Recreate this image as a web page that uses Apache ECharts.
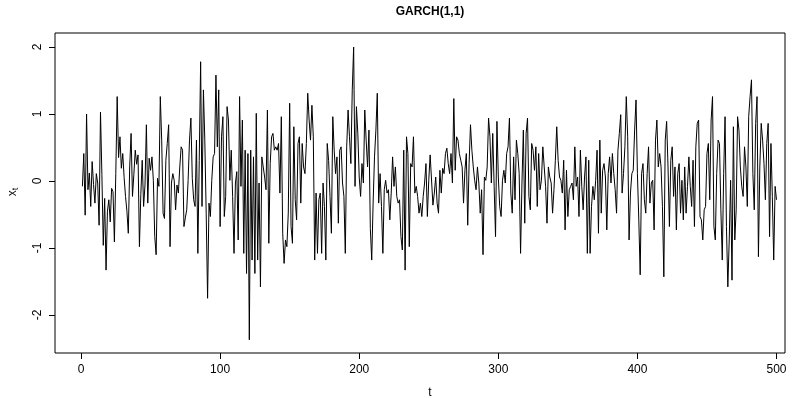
<!DOCTYPE html>
<html>
<head>
<meta charset="utf-8">
<script src="https://cdn.jsdelivr.net/npm/echarts@6/dist/echarts.min.js"></script>
<style>
html,body{margin:0;padding:0;background:#fff;}
#chart{width:801px;height:398px;}
</style>
</head>
<body>
<div id="chart"></div>
<script>
// GARCH(1,1) simulated series, t = 1..500
const xValues = [
 -0.08, 0.41,-0.51, 1.00,-0.13, 0.12,-0.38, 0.29,-0.05,-0.33, 0.11,-0.03,-0.66, 1.03, 0.10,-0.96,-0.26,-1.33,-0.45,-0.28,
 -0.61,-0.11,-0.16,-0.91, 0.11, 1.26, 0.35, 0.66, 0.19, 0.41, 0.05,-0.23,-0.45,-0.78, 0.21, 0.71,-0.23, 0.10, 0.46, 0.25,
  0.39,-0.98,-0.20, 0.31,-0.38,-0.06, 0.84,-0.33, 0.34, 0.16, 0.36, 0.01,-0.83,-1.10, 0.04,-0.08, 1.26, 0.61,-0.48,-0.56,
  0.31, 0.56, 0.84,-0.98,-0.03, 0.11, 0.01,-0.43,-0.06,-0.18, 0.21, 0.51, 0.46,-0.68,-0.55,-0.43, 0.01, 0.61, 0.94, 0.04,
 -0.28,-0.38, 0.61,-1.08, 0.31, 1.78,-0.38, 1.36, 0.61,-0.48,-1.75,-0.33,-0.53, 0.01, 0.36, 0.41, 1.58, 0.51, 1.36,-0.68,
  0.66, 0.96,-0.53,-0.23, 1.11, 0.91, 0.01, 0.46,-0.23,-1.08,-0.03, 0.14,-0.88, 1.26,-0.08, 0.91,-1.08, 0.46,-1.38, 0.41,
 -2.37, 0.46,-1.18, 0.36,-1.38, 1.01,-1.18,-0.03,-1.58, 0.36, 0.21, 0.06,-0.13, 1.06,-0.93, 0.26, 0.66, 0.71, 0.46, 0.51,
  0.46, 0.56,-0.18, 0.96,-0.78,-1.23,-0.88,-0.98,-0.48, 1.16,-0.68,-0.93, 0.81,-0.28,-0.58, 0.56, 0.66,-0.33, 0.56, 0.21,
  0.11, 0.56, 1.31, 0.91, 0.61, 1.13, 0.66,-1.18,-0.18,-1.08,-0.28,-0.18,-1.08,-0.03,-0.38,-1.18, 0.56, 0.31,-0.23,-0.78,
  0.96, 0.46, 0.11, 0.36,-0.63, 0.46, 0.51,-0.03,-0.23,-1.08, 0.51, 1.06, 0.66, 0.26, 1.36, 2.00,-0.08, 1.11, 0.71, 0.06,
 -0.23, 0.26,-0.03, 1.06, 0.61, 0.21, 0.76,-0.71,-1.18,-0.33, 0.36, 0.76, 1.31,-0.33, 0.11,-0.38,-1.08,-0.13, 0.01,-0.18,
 -0.13,-0.58,-0.18, 0.36,-0.08, 0.21,-0.23,-0.33,-0.28,-0.83,-1.03, 0.46,-1.33, 0.66, 0.41,-0.98, 0.26, 0.21, 0.66,-0.18,
 -0.08,-0.23,-0.48,-0.33,-0.53,-0.23,-0.03, 0.26,-0.53, 0.01, 0.39, 0.41,-0.36,-0.18, 0.06,-0.33,-0.48, 0.16,-0.18, 0.19,
  0.11, 0.41, 0.49, 0.26, 0.11, 0.41,-0.03, 1.23, 0.16, 0.66, 0.61, 0.41, 0.31, 0.21,-0.33, 0.16, 0.41,-0.66, 0.26, 0.84,
  0.46, 0.21, 0.01,-0.13, 0.21,-0.03,-0.48,-0.13,-1.10, 0.06, 0.01, 0.21, 0.94, 0.66,-0.03, 0.71,-0.08,-0.83, 0.89, 0.06,
 -0.38,-0.53, 0.01, 0.16,-0.03, 0.41, 0.51, 0.94,-0.18,-0.48, 0.36,-0.28, 0.61, 0.41, 0.11,-1.08,-0.03, 0.76,-0.63, 0.71,
  0.94,-0.23,-0.43, 0.56, 0.46, 0.16, 0.51,-0.38, 0.41,-0.13, 0.01, 0.51, 0.21,-0.08,-0.63, 0.21, 0.06,-0.03,-0.48,-0.13,
  0.31, 0.81, 0.31, 0.06, 0.01,-0.18, 0.31,-0.73, 0.16,-0.53,-0.13,-0.08,-0.03,-0.28, 0.51,-0.08, 0.06,-0.53, 0.46,-0.08,
 -0.43, 0.06, 0.36,-1.08, 0.31,-1.08,-0.38,-0.08,-0.28, 0.01, 0.46,-0.78, 0.61,-0.48, 0.16, 0.26, 0.06,-0.73, 0.11, 0.36,
 -0.03, 0.41, 0.11,-0.13,-0.48, 0.46, 0.71, 0.99,-0.18, 0.11, 0.51, 1.26, 0.66,-0.88,-0.18, 0.11, 0.16, 0.76, 1.21, 0.11,
 -0.58,-1.40, 0.11, 0.26,-0.28,-0.48, 0.11, 0.51,-0.33,-0.03, 0.01,-0.73, 0.61, 0.91, 0.21, 0.41, 0.21,-0.38,-1.43, 0.61,
  0.89, 0.21,-0.68, 0.31, 0.51,-0.23, 0.21,-0.73, 0.11, 0.26,-0.48, 0.01,-0.58, 0.21,-0.48,-0.08, 0.36,-0.08,-0.38, 0.31,
 -0.68, 0.51, 0.86, 0.91,-0.53,-0.58,-0.88,-0.43,-0.38, 0.41, 0.56,-0.28, 0.91, 1.26,-0.68,-0.88, 0.11, 0.61, 0.56,-0.43,
 -1.18, 0.11, 0.96,-0.68,-1.58,-0.88, 0.01,-1.48, 0.81,-0.88,-0.43, 0.96, 0.76, 0.21,-0.08,-0.23, 0.51, 0.21,-0.38, 0.96,
  1.26, 1.51, 0.11,-0.43, 0.86, 1.26,-1.13, 0.21, 0.86, 0.61, 0.26,-0.28, 0.56, 0.86,-0.83, 0.56,-0.23,-1.18,-0.08,-0.28
];
const xTicks = [0, 100, 200, 300, 400, 500];
const yTicks = [-2, -1, 0, 1, 2];
const titleText = 'GARCH(1,1)';
const xLabel = 't';

const seriesData = xValues.map((v, i) => [i + 1, v]);

const chart = echarts.init(document.getElementById('chart'), null, {renderer: 'canvas'});
const FONT = 'Liberation Sans, Arial, sans-serif';
chart.setOption({
  animation: false,
  backgroundColor: '#ffffff',
  grid: {left: 55, right: 16, top: 33, bottom: 45, show: true, borderColor: '#000', borderWidth: 1, backgroundColor: 'transparent'},
  xAxis: {
    type: 'value', min: -18.7, max: 506.1, position: 'bottom',
    axisLine: {show: false, onZero: false},
    splitLine: {show: false},
    axisTick: {show: true, length: 6, lineStyle: {color: '#000'}, customValues: xTicks},
    axisLabel: {show: true, color: '#000', fontFamily: FONT, fontSize: 12, margin: 11, customValues: xTicks}
  },
  yAxis: {
    type: 'value', min: -2.567, max: 2.209, position: 'left',
    axisLine: {show: false, onZero: false},
    splitLine: {show: false},
    axisTick: {show: true, length: 6, lineStyle: {color: '#000'}, customValues: yTicks},
    axisLabel: {show: true, color: '#000', fontFamily: FONT, fontSize: 12, margin: 11, rotate: 90, customValues: yTicks}
  },
  graphic: [
    {type: 'text', x: 430, y: 12, style: {text: titleText, fontFamily: FONT, fontSize: 12, fontWeight: 'bold', fill: '#000', align: 'center', verticalAlign: 'middle'}},
    {type: 'text', x: 430, y: 393, style: {text: xLabel, fontFamily: FONT, fontSize: 12, fill: '#000', align: 'center', verticalAlign: 'middle'}},
    {type: 'text', x: 13, y: 192, rotation: Math.PI / 2, style: {
      text: '{a|x}{b|t}', align: 'center', verticalAlign: 'middle',
      rich: {a: {fontFamily: FONT, fontSize: 12, fill: '#000'}, b: {fontFamily: FONT, fontSize: 9, fill: '#000', padding: [6, 0, 0, 0]}}
    }}
  ],
  series: [{
    type: 'line', data: seriesData, showSymbol: false, symbol: 'none',
    lineStyle: {color: '#000', width: 1}, z: 3
  }]
});
</script>
</body>
</html>
